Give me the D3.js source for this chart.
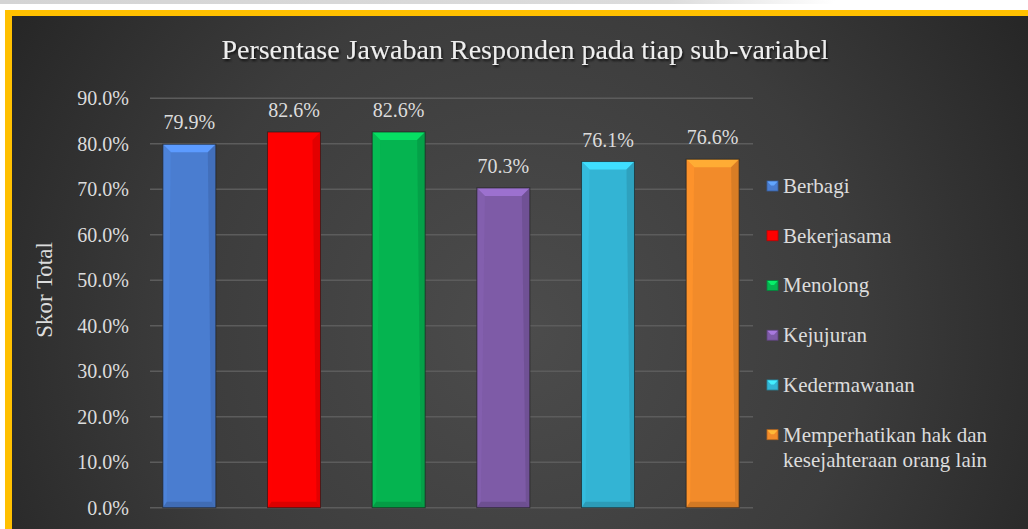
<!DOCTYPE html>
<html>
<head>
<meta charset="utf-8">
<script src="https://cdn.jsdelivr.net/npm/d3@7"></script>
<style>
  html, body { margin: 0; padding: 0; background: #ffffff; }
  svg { display: block; }
  text { font-family: "Liberation Serif", "Times New Roman", serif; }
</style>
</head>
<body>
<svg id="chart" width="1028" height="529"></svg>
<script>
// ---- data ----
const categories = ["Berbagi", "Bekerjasama", "Menolong", "Kejujuran", "Kedermawanan", "Memperhatikan hak dan kesejahteraan orang lain"];
const legendLines = [["Berbagi"], ["Bekerjasama"], ["Menolong"], ["Kejujuran"], ["Kedermawanan"], ["Memperhatikan hak dan", "kesejahteraan orang lain"]];
const values = [79.9, 82.6, 82.6, 70.3, 76.1, 76.6];
const colors = ["#4a7dd0", "#fe0000", "#05b450", "#7e5ba7", "#33b4d4", "#f28b2a"];
const tickValues = [0, 10, 20, 30, 40, 50, 60, 70, 80, 90];
const title = "Persentase Jawaban Responden pada tiap sub-variabel";
const yTitle = "Skor Total";

const svg = d3.select("#chart");
const W = 1028, H = 529;
const defs = svg.append("defs");

// background gradient
const rg = defs.append("radialGradient").attr("id", "bg")
  .attr("gradientUnits", "userSpaceOnUse")
  .attr("cx", 520).attr("cy", 330).attr("r", 620);
rg.append("stop").attr("offset", "0%").attr("stop-color", "#4c4c4c");
rg.append("stop").attr("offset", "55%").attr("stop-color", "#3c3c3c");
rg.append("stop").attr("offset", "100%").attr("stop-color", "#242424");

const topg = defs.append("linearGradient").attr("id", "topstrip").attr("x1", 0).attr("x2", 1);
topg.append("stop").attr("offset", "0%").attr("stop-color", "#d4d4d4");
topg.append("stop").attr("offset", "80%").attr("stop-color", "#dcdcdc");
topg.append("stop").attr("offset", "100%").attr("stop-color", "#ffffff");

const shadow = defs.append("filter").attr("id", "shadow").attr("x", "-10%").attr("y", "-30%").attr("width", "120%").attr("height", "160%");
shadow.append("feDropShadow").attr("dx", 1.2).attr("dy", 2).attr("stdDeviation", 1.2)
  .attr("flood-color", "#000").attr("flood-opacity", 0.75);

// page top strip
svg.append("rect").attr("x", 0).attr("y", 0).attr("width", W).attr("height", 10).attr("fill", "#ffffff");
svg.append("rect").attr("x", 0).attr("y", 0).attr("width", 835).attr("height", 4).attr("fill", "url(#topstrip)");

// frame
svg.append("rect").attr("x", 5).attr("y", 10).attr("width", W - 5).attr("height", H - 10).attr("fill", "#ffc000");
svg.append("rect").attr("x", 12).attr("y", 16).attr("width", W - 12).attr("height", H - 16).attr("fill", "url(#bg)");

// scales
const y = d3.scaleLinear().domain([0, 90]).range([507.7, 98.3]);
const x = d3.scaleBand().domain(categories).range([137, 765]).paddingInner(0.494).paddingOuter(0.247);
const gridX0 = 150, gridX1 = 753;

// gridlines
svg.append("g").selectAll("line").data(tickValues).join("line")
  .attr("x1", gridX0).attr("x2", gridX1)
  .attr("y1", d => y(d)).attr("y2", d => y(d))
  .attr("stroke", "#5c5c5c").attr("stroke-width", 1.5);

// y axis labels
const yAxis = d3.axisLeft(y).tickValues(tickValues).tickFormat(d => d3.format(".1f")(d) + "%").tickSize(0).tickPadding(0);
const ga = svg.append("g").attr("transform", "translate(129,0)").call(yAxis);
ga.select(".domain").remove();
ga.selectAll("text").attr("fill", "#dcdcdc").attr("font-size", 20)
  .attr("font-family", "'Liberation Serif', 'Times New Roman', serif").attr("dy", "0.33em");

// bars with bevel
const bars = svg.append("g").selectAll("g").data(values).join("g");
bars.each(function(v, i) {
  const g = d3.select(this);
  const x0 = x(categories[i]), w = x.bandwidth();
  const y0 = y(v), y1 = y(0);
  const c = d3.color(colors[i]);
  const bt = 8, bs = 4, bb = 6;
  g.append("rect").attr("x", x0).attr("y", y0).attr("width", w).attr("height", y1 - y0).attr("fill", c.formatHex());
  // top bevel
  g.append("path").attr("d", `M${x0},${y0}L${x0 + w},${y0}L${x0 + w - bs - 4},${y0 + bt}L${x0 + bs + 4},${y0 + bt}Z`)
    .attr("fill", c.brighter(0.6).formatHex());
  // left bevel
  g.append("path").attr("d", `M${x0},${y0}L${x0 + bs + 4},${y0 + bt}L${x0 + bs},${y1 - bb}L${x0},${y1}Z`)
    .attr("fill", c.brighter(0.15).formatHex()).attr("opacity", 0.8);
  // right bevel
  g.append("path").attr("d", `M${x0 + w},${y0}L${x0 + w - bs - 4},${y0 + bt}L${x0 + w - bs},${y1 - bb}L${x0 + w},${y1}Z`)
    .attr("fill", c.darker(0.35).formatHex()).attr("opacity", 0.9);
  // bottom bevel
  g.append("path").attr("d", `M${x0},${y1}L${x0 + bs},${y1 - bb}L${x0 + w - bs},${y1 - bb}L${x0 + w},${y1}Z`)
    .attr("fill", c.darker(0.4).formatHex());
  g.append("rect").attr("x", x0).attr("y", y0).attr("width", w).attr("height", y1 - y0)
    .attr("fill", "none").attr("stroke", "#1e1e1e").attr("stroke-opacity", 0.7).attr("stroke-width", 1);
});

// value labels
svg.append("g").selectAll("text").data(values).join("text")
  .attr("x", (d, i) => x(categories[i]) + x.bandwidth() / 2)
  .attr("y", d => y(d) - 15)
  .attr("text-anchor", "middle").attr("fill", "#dcdcdc").attr("font-size", 20)
  .text(d => d3.format(".1f")(d) + "%");

// title
svg.append("text").attr("x", 525).attr("y", 59).attr("text-anchor", "middle")
  .attr("fill", "#eeeeee").attr("font-size", 28).attr("filter", "url(#shadow)").text(title);

// y title
svg.append("text").attr("transform", "translate(52,290) rotate(-90)")
  .attr("text-anchor", "middle").attr("fill", "#dcdcdc").attr("font-size", 23).text(yTitle);

// legend
const legY = d3.scalePoint().domain(categories).range([186, 434.7]);
const leg = svg.append("g").selectAll("g").data(categories).join("g")
  .attr("transform", d => `translate(767,${legY(d)})`);
leg.each(function(d, i) {
  const g = d3.select(this);
  const c = d3.color(colors[i]);
  g.append("rect").attr("x", 0).attr("y", -5).attr("width", 11).attr("height", 10).attr("fill", c.formatHex())
    .attr("stroke", c.darker(0.8).formatHex()).attr("stroke-width", 0.8);
  g.append("path").attr("d", "M0.5,-4.5L10.5,-4.5L7,-0.5L4,-0.5Z").attr("fill", c.brighter(0.8).formatHex());
  const t = g.append("text").attr("x", 16).attr("y", 7).attr("fill", "#dcdcdc").attr("font-size", 21);
  legendLines[i].forEach((ln, k) => {
    t.append("tspan").attr("x", 16).attr("dy", k === 0 ? 0 : 25).text(ln);
  });
});
</script>
</body>
</html>
